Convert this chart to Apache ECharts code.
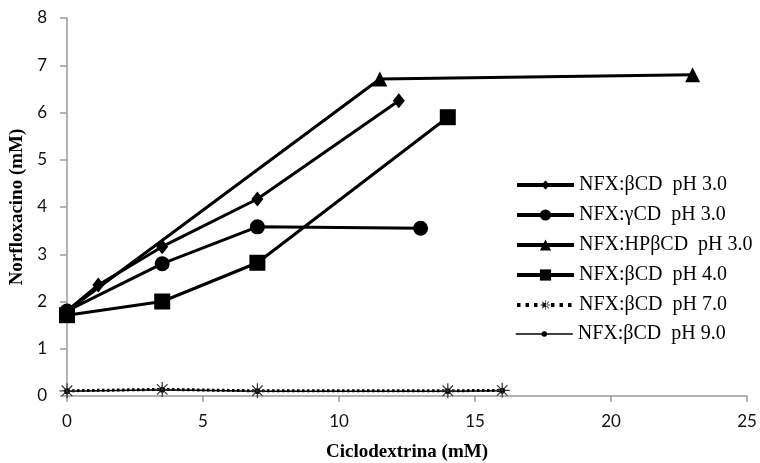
<!DOCTYPE html>
<html>
<head>
<meta charset="utf-8">
<script src="https://cdn.jsdelivr.net/npm/echarts@6/dist/echarts.min.js"></script>
<style>
  html, body { margin: 0; padding: 0; background: #fff; }
  #chart { width: 760px; height: 463px; }
</style>
</head>
<body>
<div id="chart"></div>
<script>
// Solubility of norfloxacin vs. cyclodextrin concentration
const seriesNames = [
  'NFX:βCD  pH 3.0',
  'NFX:γCD  pH 3.0',
  'NFX:HPβCD  pH 3.0',
  'NFX:βCD  pH 4.0',
  'NFX:βCD  pH 7.0',
  'NFX:βCD  pH 9.0'
];
// [cyclodextrin mM, norfloxacin mM]
const bcdPh3 = [[0, 1.8], [1.15, 2.35], [3.5, 3.16], [7, 4.17], [12.2, 6.25]];
const gcdPh3 = [[0, 1.8], [3.5, 2.8], [7, 3.58], [13, 3.55]];
const hpbcdPh3 = [[0, 1.8], [11.5, 6.71], [23, 6.8]];
const bcdPh4 = [[0, 1.71], [3.5, 2.0], [7, 2.82], [14, 5.9]];
const bcdPh7 = [[0, 0.11], [3.5, 0.14], [7, 0.11], [14, 0.11], [16, 0.12]];
const bcdPh9 = [[0, 0.1], [3.5, 0.13], [7, 0.1], [14, 0.1], [16, 0.11]];

const xTicks = { min: 0, max: 25, step: 5 };
const yTicks = { min: 0, max: 8, step: 1 };

const serif = 'Liberation Serif';
const sans = 'Lato';
const axisGrey = '#9a9a9a';

// eight-ray asterisk with a filled core
const asterisk = 'path://M-0.8,-10L0.8,-10L0.8,10L-0.8,10Z M-10,-0.8L10,-0.8L10,0.8L-10,0.8Z ' +
  'M-6.5,-7.6L7.6,6.5L6.5,7.6L-7.6,-6.5Z M7.6,-6.5L-6.5,7.6L-7.6,6.5L6.5,-7.6Z ' +
  'M-3,0A3,3,0,1,0,3,0A3,3,0,1,0,-3,0Z';

function lineSeries(name, data, symbol, size, width, extra) {
  return Object.assign({
    name: name,
    type: 'line',
    data: data,
    symbol: symbol,
    symbolSize: size,
    showAllSymbol: true,
    lineStyle: { color: '#000', width: width },
    itemStyle: { color: '#000' },
    emphasis: { disabled: true },
    animation: false
  }, extra || {});
}

// one legend block per entry so every icon can keep its own marker size
const legendRows = [
  { name: seriesNames[0], center: 183, h: 11, line: { width: 4 } },
  { name: seriesNames[1], center: 213, h: 14, line: { width: 4 } },
  { name: seriesNames[2], center: 243, h: 14, line: { width: 4 } },
  { name: seriesNames[3], center: 273, h: 14, line: { width: 4 } },
  { name: seriesNames[4], center: 303, h: 12, line: { width: 4, type: [3.5, 5] } },
  { name: seriesNames[5], center: 332, h: 7, line: { width: 1.5 } }
];
const legendText = { fontFamily: serif, fontSize: 20, fontWeight: 'normal', color: '#000' };
const legends = legendRows.map(r => ({
  orient: 'vertical',
  left: 515,
  top: r.center - 8,
  padding: 0,
  itemWidth: 57,
  itemHeight: r.h,
  itemGap: 0,
  data: [r.name],
  lineStyle: r.line,
  textStyle: legendText,
  selectedMode: false
}));

const chart = echarts.init(document.getElementById('chart'));
chart.setOption({
  backgroundColor: '#fff',
  grid: { left: 67, right: 13, top: 18, bottom: 67, containLabel: false, outerBoundsMode: 'none' },
  legend: legends,
  xAxis: {
    type: 'value',
    min: xTicks.min, max: xTicks.max, interval: xTicks.step,
    name: 'Ciclodextrina (mM)',
    nameLocation: 'middle',
    nameGap: 47,
    nameTextStyle: { fontFamily: serif, fontSize: 19, fontWeight: 'bold', color: '#000' },
    axisLine: { lineStyle: { color: axisGrey, width: 1.5 } },
    axisTick: { show: true, length: 6, lineStyle: { color: axisGrey, width: 1.5 } },
    axisLabel: { fontFamily: sans, fontSize: 17, color: '#111', margin: 17 },
    splitLine: { show: false }
  },
  yAxis: {
    type: 'value',
    min: yTicks.min, max: yTicks.max, interval: yTicks.step,
    name: 'Norfloxacino (mM)',
    nameLocation: 'middle',
    nameGap: 38,
    nameTextStyle: { fontFamily: serif, fontSize: 19, fontWeight: 'bold', color: '#000' },
    axisLine: { show: true, lineStyle: { color: axisGrey, width: 1.5 } },
    axisTick: { show: true, length: 7, lineStyle: { color: axisGrey, width: 1.5 } },
    axisLabel: { fontFamily: sans, fontSize: 17, color: '#111', margin: 20 },
    splitLine: { show: false }
  },
  series: [
    lineSeries(seriesNames[0], bcdPh3, 'diamond', [12, 15], 3),
    lineSeries(seriesNames[1], gcdPh3, 'circle', 15, 3),
    lineSeries(seriesNames[2], hpbcdPh3, 'triangle', 15, 3),
    lineSeries(seriesNames[3], bcdPh4, 'rect', 16, 3),
    lineSeries(seriesNames[5], bcdPh9, 'circle', 6, 1.5, { z: 2 }),
    lineSeries(seriesNames[4], bcdPh7, asterisk, 15, 3, {
      z: 3,
      lineStyle: { color: '#000', width: 3, type: [2.5, 2.5] },
      itemStyle: { color: '#333' }
    })
  ]
});
</script>
</body>
</html>
